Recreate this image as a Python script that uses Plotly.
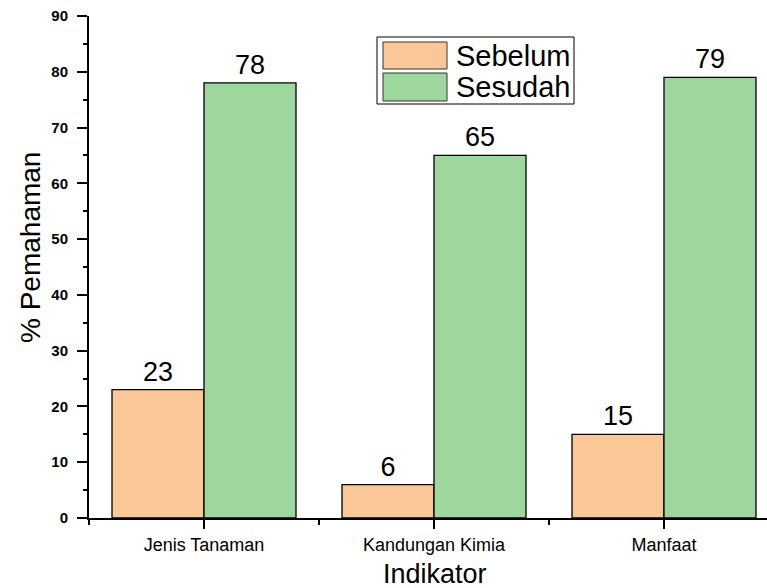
import plotly.graph_objects as go

# Data
categories = ["Jenis Tanaman", "Kandungan Kimia", "Manfaat"]
series_names = ["Sebelum", "Sesudah"]
sebelum = [23, 6, 15]
sesudah = [78, 65, 79]
colors = ["#FAC898", "#9ED79D"]
y_ticks = [0, 10, 20, 30, 40, 50, 60, 70, 80, 90]

W, H = 767, 588
L, R, T, B = 89, 0, 16, 70

def px_x(px):
    return (px - L) / (W - L - R)

def px_y(py):
    return (H - B - py) / (H - T - B)

FONT = "Liberation Sans, Arial, sans-serif"
xpos = list(range(len(categories)))

fig = go.Figure()
for name, vals, col in zip(series_names, [sebelum, sesudah], colors):
    fig.add_trace(go.Bar(
        x=xpos, y=vals, name=name,
        marker=dict(color=col, line=dict(color="#000000", width=1.3)),
        text=[str(v) for v in vals], textposition="outside",
        textfont=dict(family=FONT, size=27, color="#000000"),
        cliponaxis=False, showlegend=False,
    ))

# Legend drawn as a boxed key
shapes = [dict(type="rect", xref="paper", yref="paper",
               x0=px_x(377), x1=px_x(574), y0=px_y(104), y1=px_y(37),
               line=dict(color="#000000", width=1), fillcolor="white")]
annotations = []
rows = [(42, 69), (73, 101)]
for (y0, y1), name, col in zip(rows, series_names, colors):
    shapes.append(dict(type="rect", xref="paper", yref="paper",
                       x0=px_x(383), x1=px_x(447), y0=px_y(y1), y1=px_y(y0),
                       line=dict(color="#333333", width=1), fillcolor=col))
    annotations.append(dict(xref="paper", yref="paper", x=px_x(454),
                            y=px_y((y0 + y1) / 2), text=name, showarrow=False,
                            xanchor="left", yanchor="middle",
                            font=dict(family=FONT, size=29, color="#000000")))

# Axis titles
annotations.append(dict(xref="paper", yref="paper", x=px_x(30), y=px_y(248),
                        text="% Pemahaman", textangle=-90, showarrow=False,
                        xanchor="center", yanchor="middle",
                        font=dict(family=FONT, size=28, color="#000000")))
annotations.append(dict(xref="paper", yref="paper", x=px_x(435), y=px_y(574),
                        text="Indikator", showarrow=False,
                        xanchor="center", yanchor="middle",
                        font=dict(family=FONT, size=27, color="#000000")))

fig.update_layout(
    width=W, height=H,
    margin=dict(l=L, r=R, t=T, b=B),
    paper_bgcolor="white", plot_bgcolor="white",
    barmode="group", bargap=0.2, bargroupgap=0,
    shapes=shapes, annotations=annotations,
    showlegend=False,
)
fig.update_xaxes(
    range=[-0.5, (W - 204) / 230],
    tickvals=xpos, ticktext=categories,
    tickfont=dict(family=FONT, size=18, color="#000000"),
    ticks="outside", ticklen=9, tickwidth=2, tickcolor="#000000",
    minor=dict(tickvals=[-0.5, 0.5, 1.5, 2.5], ticks="outside", ticklen=5,
               tickwidth=2, tickcolor="#000000"),
    showline=True, linecolor="#000000", linewidth=2,
    showgrid=False, zeroline=False,
)
fig.update_yaxes(
    range=[0, 90], tickvals=y_ticks,
    tickfont=dict(family=FONT, size=15, color="#000000", weight="bold"),
    ticks="outside", ticklen=10, tickwidth=2, tickcolor="#000000",
    ticklabelstandoff=6,
    minor=dict(dtick=5, ticks="outside", ticklen=4, tickwidth=2,
               tickcolor="#000000"),
    showline=True, linecolor="#000000", linewidth=2,
    showgrid=False, zeroline=False,
)

fig.write_html("out.html")
